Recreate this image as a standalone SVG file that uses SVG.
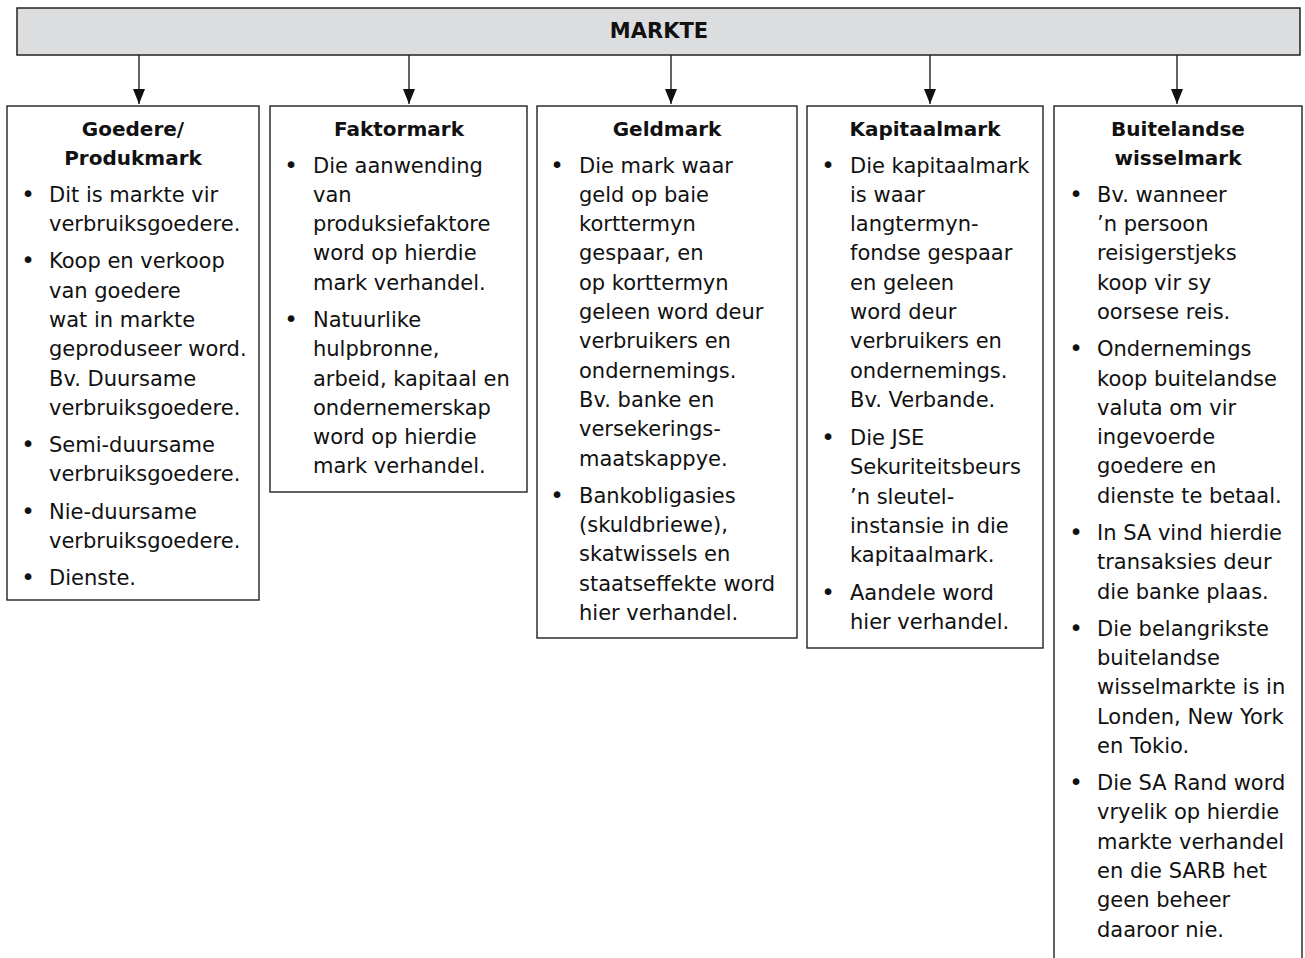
<svg xmlns="http://www.w3.org/2000/svg" width="1305" height="958" viewBox="0 0 1305 958">
<style>
  .box { fill: #ffffff; stroke: #222222; stroke-width: 1.4; }
  .bar { fill: #dcdddf; stroke: #222222; stroke-width: 1.5; }
  .title { font-family: "DejaVu Sans", "Liberation Sans", sans-serif; font-weight: bold; font-size: 20px; fill: #111111; text-anchor: middle; }
  .main { font-family: "DejaVu Sans", "Liberation Sans", sans-serif; font-weight: bold; font-size: 21px; fill: #111111; text-anchor: middle; }
  .t { font-family: "DejaVu Sans", "Liberation Sans", sans-serif; font-size: 21px; fill: #111111; }
  .b { font-family: "DejaVu Sans", "Liberation Sans", sans-serif; font-size: 23px; fill: #111111; text-anchor: middle; }
  .conn { stroke: #222222; stroke-width: 1.4; fill: none; }
</style>
<defs>
  <marker id="arrow" viewBox="0 0 15 12" refX="15" refY="6" markerWidth="15" markerHeight="12" markerUnits="userSpaceOnUse" orient="auto">
    <path d="M0,0 L15,6 L0,12 Z" fill="#111111"/>
  </marker>
</defs>
<rect width="1305" height="958" fill="#ffffff"/>

<g id="markte">
  <rect class="bar" x="17" y="8" width="1283" height="47"/>
  <text class="main" x="659" y="38">MARKTE</text>
</g>

<g id="connectors">
  <line class="conn" x1="139" y1="55" x2="139" y2="104" marker-end="url(#arrow)"/>
  <line class="conn" x1="409" y1="55" x2="409" y2="104" marker-end="url(#arrow)"/>
  <line class="conn" x1="671" y1="55" x2="671" y2="104" marker-end="url(#arrow)"/>
  <line class="conn" x1="930" y1="55" x2="930" y2="104" marker-end="url(#arrow)"/>
  <line class="conn" x1="1177" y1="55" x2="1177" y2="104" marker-end="url(#arrow)"/>
</g>

<g id="goedere">
  <rect class="box" x="7" y="106" width="252" height="494"/>
  <text class="title" x="133" y="136">Goedere/</text>
  <text class="title" x="133" y="165.3">Produkmark</text>
  <g transform="translate(0,2.5)">
  <text class="b" x="28" y="199.3">•</text>
  <text class="t" x="49" y="199.3">Dit is markte vir</text>
  <text class="t" x="49" y="228.6">verbruiksgoedere.</text>
  <text class="b" x="28" y="265.8">•</text>
  <text class="t" x="49" y="265.8">Koop en verkoop</text>
  <text class="t" x="49" y="295.1">van goedere</text>
  <text class="t" x="49" y="324.4">wat in markte</text>
  <text class="t" x="49" y="353.7">geproduseer word.</text>
  <text class="t" x="49" y="383">Bv. Duursame</text>
  <text class="t" x="49" y="412.3">verbruiksgoedere.</text>
  <text class="b" x="28" y="449.5">•</text>
  <text class="t" x="49" y="449.5">Semi-duursame</text>
  <text class="t" x="49" y="478.8">verbruiksgoedere.</text>
  <text class="b" x="28" y="516">•</text>
  <text class="t" x="49" y="516">Nie-duursame</text>
  <text class="t" x="49" y="545.3">verbruiksgoedere.</text>
  <text class="b" x="28" y="582.5">•</text>
  <text class="t" x="49" y="582.5">Dienste.</text>
  </g>
</g>

<g id="faktormark">
  <rect class="box" x="270" y="106" width="257" height="386"/>
  <text class="title" x="399" y="136">Faktormark</text>
  <g transform="translate(0,2.5)">
  <text class="b" x="291" y="170">•</text>
  <text class="t" x="313" y="170">Die aanwending</text>
  <text class="t" x="313" y="199.3">van</text>
  <text class="t" x="313" y="228.6">produksiefaktore</text>
  <text class="t" x="313" y="257.9">word op hierdie</text>
  <text class="t" x="313" y="287.2">mark verhandel.</text>
  <text class="b" x="291" y="324.4">•</text>
  <text class="t" x="313" y="324.4">Natuurlike</text>
  <text class="t" x="313" y="353.7">hulpbronne,</text>
  <text class="t" x="313" y="383">arbeid, kapitaal en</text>
  <text class="t" x="313" y="412.3">ondernemerskap</text>
  <text class="t" x="313" y="441.6">word op hierdie</text>
  <text class="t" x="313" y="470.9">mark verhandel.</text>
  </g>
</g>

<g id="geldmark">
  <rect class="box" x="537" y="106" width="260" height="532"/>
  <text class="title" x="667" y="136">Geldmark</text>
  <g transform="translate(0,2.5)">
  <text class="b" x="557" y="170">•</text>
  <text class="t" x="579" y="170">Die mark waar</text>
  <text class="t" x="579" y="199.3">geld op baie</text>
  <text class="t" x="579" y="228.6">korttermyn</text>
  <text class="t" x="579" y="257.9">gespaar, en</text>
  <text class="t" x="579" y="287.2">op korttermyn</text>
  <text class="t" x="579" y="316.5">geleen word deur</text>
  <text class="t" x="579" y="345.8">verbruikers en</text>
  <text class="t" x="579" y="375.1">ondernemings.</text>
  <text class="t" x="579" y="404.4">Bv. banke en</text>
  <text class="t" x="579" y="433.7">versekerings-</text>
  <text class="t" x="579" y="463">maatskappye.</text>
  <text class="b" x="557" y="500.2">•</text>
  <text class="t" x="579" y="500.2">Bankobligasies</text>
  <text class="t" x="579" y="529.5">(skuldbriewe),</text>
  <text class="t" x="579" y="558.8">skatwissels en</text>
  <text class="t" x="579" y="588.1">staatseffekte word</text>
  <text class="t" x="579" y="617.4">hier verhandel.</text>
  </g>
</g>

<g id="kapitaalmark">
  <rect class="box" x="807" y="106" width="236" height="542"/>
  <text class="title" x="925" y="136">Kapitaalmark</text>
  <g transform="translate(0,2.5)">
  <text class="b" x="828" y="170">•</text>
  <text class="t" x="850" y="170">Die kapitaalmark</text>
  <text class="t" x="850" y="199.3">is waar</text>
  <text class="t" x="850" y="228.6">langtermyn-</text>
  <text class="t" x="850" y="257.9">fondse gespaar</text>
  <text class="t" x="850" y="287.2">en geleen</text>
  <text class="t" x="850" y="316.5">word deur</text>
  <text class="t" x="850" y="345.8">verbruikers en</text>
  <text class="t" x="850" y="375.1">ondernemings.</text>
  <text class="t" x="850" y="404.4">Bv. Verbande.</text>
  <text class="b" x="828" y="442.5">•</text>
  <text class="t" x="850" y="442.5">Die JSE</text>
  <text class="t" x="850" y="471.8">Sekuriteitsbeurs</text>
  <text class="t" x="850" y="501.1">’n sleutel-</text>
  <text class="t" x="850" y="530.4">instansie in die</text>
  <text class="t" x="850" y="559.7">kapitaalmark.</text>
  <text class="b" x="828" y="597">•</text>
  <text class="t" x="850" y="597">Aandele word</text>
  <text class="t" x="850" y="626.3">hier verhandel.</text>
  </g>
</g>

<g id="buitelandse">
  <rect class="box" x="1054" y="106" width="248" height="860"/>
  <text class="title" x="1178" y="136">Buitelandse</text>
  <text class="title" x="1178" y="165.3">wisselmark</text>
  <g transform="translate(0,2.5)">
  <text class="b" x="1076" y="199.3">•</text>
  <text class="t" x="1097" y="199.3">Bv. wanneer</text>
  <text class="t" x="1097" y="228.6">’n persoon</text>
  <text class="t" x="1097" y="257.9">reisigerstjeks</text>
  <text class="t" x="1097" y="287.2">koop vir sy</text>
  <text class="t" x="1097" y="316.5">oorsese reis.</text>
  <text class="b" x="1076" y="353.7">•</text>
  <text class="t" x="1097" y="353.7">Ondernemings</text>
  <text class="t" x="1097" y="383">koop buitelandse</text>
  <text class="t" x="1097" y="412.3">valuta om vir</text>
  <text class="t" x="1097" y="441.6">ingevoerde</text>
  <text class="t" x="1097" y="470.9">goedere en</text>
  <text class="t" x="1097" y="500.2">dienste te betaal.</text>
  <text class="b" x="1076" y="537.4">•</text>
  <text class="t" x="1097" y="537.4">In SA vind hierdie</text>
  <text class="t" x="1097" y="566.7">transaksies deur</text>
  <text class="t" x="1097" y="596">die banke plaas.</text>
  <text class="b" x="1076" y="633.2">•</text>
  <text class="t" x="1097" y="633.2">Die belangrikste</text>
  <text class="t" x="1097" y="662.5">buitelandse</text>
  <text class="t" x="1097" y="691.8">wisselmarkte is in</text>
  <text class="t" x="1097" y="721.1">Londen, New York</text>
  <text class="t" x="1097" y="750.4">en Tokio.</text>
  <text class="b" x="1076" y="787.6">•</text>
  <text class="t" x="1097" y="787.6">Die SA Rand word</text>
  <text class="t" x="1097" y="816.9">vryelik op hierdie</text>
  <text class="t" x="1097" y="846.2">markte verhandel</text>
  <text class="t" x="1097" y="875.5">en die SARB het</text>
  <text class="t" x="1097" y="904.8">geen beheer</text>
  <text class="t" x="1097" y="934.1">daaroor nie.</text>
  </g>
</g>
</svg>
